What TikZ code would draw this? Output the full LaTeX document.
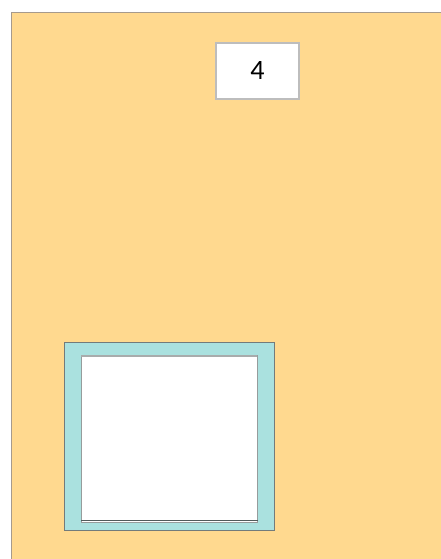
\documentclass[tikz,border=0pt]{standalone}
\usepackage{fontspec}
\setmainfont{Carlito}
\definecolor{bgorange}{HTML}{FFD98F}
\definecolor{frameteal}{HTML}{AAE1DF}
\definecolor{edgegray}{HTML}{A0A0A0}
\definecolor{darkline}{HTML}{505A5A}
\tikzset{
  labelbox/.style={draw=edgegray!70, line width=1.2pt, fill=white, minimum width=83pt, minimum height=56pt, inner sep=0pt, font=\fontsize{28}{32}\selectfont},
}
\begin{document}
\begin{tikzpicture}[x=1pt,y=-1pt]
\useasboundingbox (0,0) rectangle (441,559);
\fill[white] (0,0) rectangle (441,559);
% background panel
\fill[bgorange] (11,12) rectangle (441,559);
\draw[edgegray!80!brown, line width=1pt] (11.5,559) -- (11.5,12.5) -- (441,12.5);
% label
\node[labelbox] (lbl) at (257.5,71) {4};
% window frame
\node[draw=darkline!80, line width=0.8pt, fill=frameteal, minimum width=210pt, minimum height=188pt, inner sep=0pt, anchor=north west] (frame) at (64,342) {};
\node[draw=darkline!60, line width=0.8pt, fill=white, minimum width=176pt, minimum height=167pt, inner sep=0pt, anchor=north west] (pane) at (81,355) {};
\draw[darkline!50, line width=2pt] (pane.north west) ++(0,1) -- ++(176,0);
\draw[darkline, line width=1.2pt] ([yshift=2.5pt]pane.south west) -- ([yshift=2.5pt]pane.south east);
\end{tikzpicture}
\end{document}
